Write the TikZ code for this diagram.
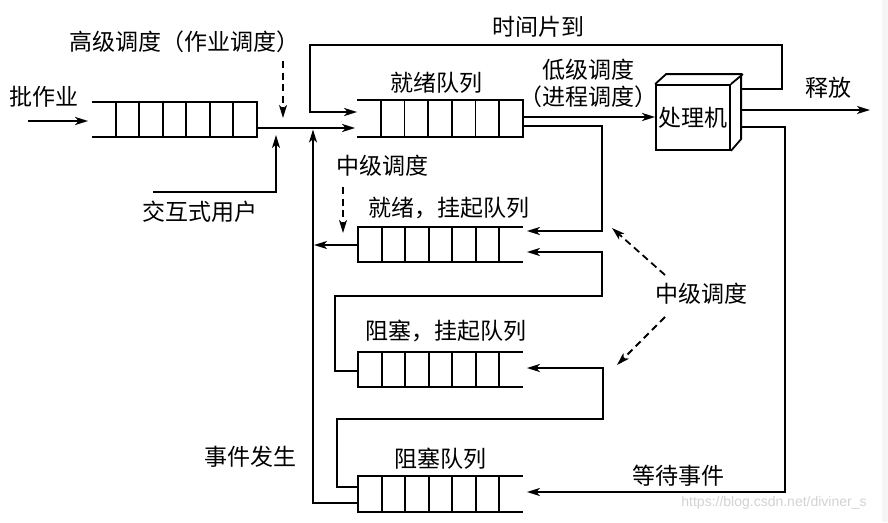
\documentclass[tikz,border=0pt]{standalone}
\usepackage{fontspec}
\setmainfont{Noto Sans CJK SC}
\newfontfamily\wmfont{Liberation Sans}
\usetikzlibrary{arrows.meta,calc}
\newcommand\qOpenLeft[1]{%
  \draw (#1.north west) -- (#1.north east) -- (#1.south east) -- (#1.south west);
  \foreach \k in {1,...,6} \draw ($(#1.north west)!\k/7!(#1.north east)$) -- ($(#1.south west)!\k/7!(#1.south east)$);}
\newcommand\qOpenRight[1]{%
  \draw (#1.north east) -- (#1.north west) -- (#1.south west) -- (#1.south east);
  \foreach \k in {1,...,6} \draw ($(#1.north west)!\k/7!(#1.north east)$) -- ($(#1.south west)!\k/7!(#1.south east)$);}
\begin{document}
\begin{tikzpicture}[x=1pt,y=-1pt,line width=1.8pt,
  arr/.style={-{Stealth[length=13pt,width=8pt,inset=3.5pt]}},
  lbl/.style={font=\fontsize{23}{26}\selectfont,inner sep=0},
  qbox/.style={minimum width=164pt,minimum height=34pt,inner sep=0,draw=none},
  dsh/.style={dash pattern=on 7pt off 4.5pt}]
\useasboundingbox (0,0) rectangle (888,522);
\fill[gray!8] (882,0) rectangle (888,522);
% queues
\node[qbox,minimum width=163pt,minimum height=33pt] (bq) at (174.5,119.5) {};
\node[qbox,minimum height=35pt] (rq) at (440,118.5) {};
\node[qbox,minimum width=163pt,minimum height=33pt] (rsq) at (440.5,244.5) {};
\node[qbox,minimum width=163pt,minimum height=33pt] (bsq) at (440.5,369.5) {};
\node[qbox,minimum width=163pt,minimum height=34pt] (blq) at (440.5,494) {};
\qOpenLeft{bq}
\qOpenLeft{rq}
\qOpenRight{rsq}
\qOpenRight{bsq}
\qOpenRight{blq}
% processor
\node[draw,minimum width=74pt,minimum height=65pt,inner sep=0,lbl] (proc) at (693,117.5) {处理机};
\draw (proc.north west) -- ++(11,-10) -- ++(75,0) -- ++(0,65) -- (proc.south east);
\draw (proc.north east) -- ++(12,-10);
\coordinate (pside) at (742,117);
% labels
\node[lbl] (l1) at (44,97) {批作业};
\node[lbl] (l2) at (184,42) {高级调度（作业调度）};
\node[lbl] (l3) at (200,212) {交互式用户};
\node[lbl] (l4) at (538,27) {时间片到};
\node[lbl] (l5) at (436,83) {就绪队列};
\node[lbl] (l6) at (588,70) {低级调度};
\node[lbl] (l7) at (588,97) {（进程调度）};
\node[lbl] (l8) at (828,88) {释放};
\node[lbl] (l9) at (382,166) {中级调度};
\node[lbl] (l10) at (449,208) {就绪，挂起队列};
\node[lbl] (l11) at (446,331) {阻塞，挂起队列};
\node[lbl] (l12) at (701,294) {中级调度};
\node[lbl] (l13) at (440,459) {阻塞队列};
\node[lbl] (l14) at (250,457) {事件发生};
\node[lbl] (l15) at (678,476) {等待事件};
\node[font=\wmfont\fontsize{14}{16}\selectfont,text=gray!35,inner sep=0] (wm) at (774,503) {https://blog.csdn.net/diviner\_s};
% connectors
\coordinate (bin) at (28,121);
\draw[arr] (bin) -- ([xshift=-4pt]bq.west |- 0,121);
\draw[arr] (bq.east |- 0,128) -- ([xshift=-2pt]rq.west |- 0,128);
\coordinate (iu) at (153,192);
\draw[arr] (iu) -- (276,192) -- (276,135);
\draw[arr] (blq.west |- 0,503) -- (313,503) -- (313,129.5);
\draw[arr] (rsq.west |- 0,245) -- (314,245);
\draw[arr] (pside |- 0,89) -- (782,89) -- (782,45) -- (310,45) -- (310,112) -- (rq.west |- 0,112);
\draw[arr] (rq.east |- 0,117) -- (proc.west |- 0,117);
\draw[arr] (pside |- 0,110) -- (870,110);
\draw[arr] (pside |- 0,127) -- (785,127) -- (785,492) -- ([xshift=4pt]blq.east |- 0,492);
\draw[arr] (rq.east |- 0,126) -- (602,126) -- (602,231) -- ([xshift=4pt]rsq.east |- 0,231);
\draw[arr] (bsq.west |- 0,371) -- (335,371) -- (335,296) -- (602,296) -- (602,252) -- ([xshift=4pt]rsq.east |- 0,252);
\draw[arr] (blq.west |- 0,487) -- (337,487) -- (337,419) -- (603,419) -- (603,368) -- ([xshift=4pt]bsq.east |- 0,368);
% dashed arrows
\draw[arr,dsh] (283,61) -- (283,118);
\draw[arr,dsh] (343,187) -- (343,233);
\draw[arr,dsh] (665,275) -- (612,228);
\draw[arr,dsh] (665,317) -- (617,365);
\end{tikzpicture}
\end{document}
